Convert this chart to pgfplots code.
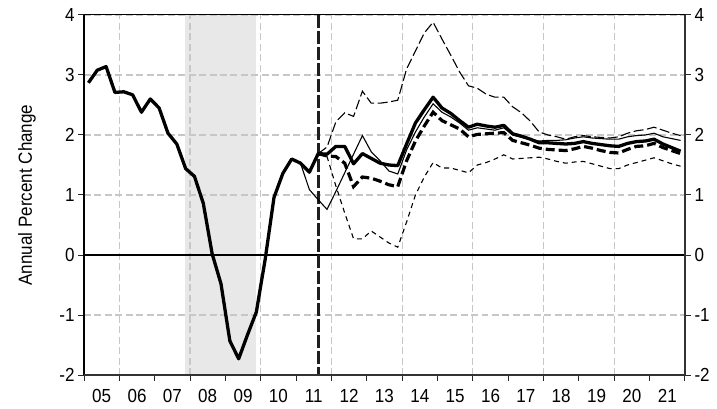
\documentclass[border=0pt]{standalone}
\usepackage{fontspec}
\setmainfont{Liberation Sans}[FakeStretch=0.9]
\usepackage{pgfplots}
\pgfplotsset{compat=1.18}

% history and forecasts, annual percent change (quarters at mid-quarter)
\pgfplotstableread{
x y
2005.125 2.87
2005.375 3.08
2005.625 3.14
2005.875 2.71
2006.125 2.72
2006.375 2.67
2006.625 2.38
2006.875 2.60
2007.125 2.45
2007.375 2.03
2007.625 1.85
2007.875 1.44
2008.125 1.31
2008.375 0.86
2008.625 0.02
2008.875 -0.48
2009.125 -1.43
2009.375 -1.73
2009.625 -1.33
2009.875 -0.95
2010.125 -0.07
2010.375 0.96
2010.625 1.36
2010.875 1.60
2011.125 1.53
2011.375 1.38
2011.625 1.69
2011.875 1.68
2012.125 1.81
2012.375 1.81
2012.625 1.52
2012.875 1.69
2013.125 1.61
2013.375 1.53
2013.625 1.50
2013.875 1.49
2014.125 1.85
2014.375 2.20
2014.625 2.42
2014.875 2.63
2015.125 2.45
2015.375 2.36
2015.625 2.24
2015.875 2.13
2016.125 2.18
2016.375 2.15
2016.625 2.13
2016.875 2.16
2017.125 2.02
2017.375 1.98
2017.625 1.93
2017.875 1.87
2018.125 1.87
2018.375 1.86
2018.625 1.85
2018.875 1.86
2019.125 1.89
2019.375 1.86
2019.625 1.84
2019.875 1.82
2020.125 1.81
2020.375 1.86
2020.625 1.89
2020.875 1.90
2021.125 1.93
2021.375 1.85
2021.625 1.79
2021.875 1.73
}\histdata

\pgfplotstableread{
x y
2011.625 1.69
2011.875 1.65
2012.125 1.64
2012.375 1.53
2012.625 1.14
2012.875 1.30
2013.125 1.28
2013.375 1.23
2013.625 1.17
2013.875 1.14
2014.125 1.57
2014.375 1.90
2014.625 2.15
2014.875 2.38
2015.125 2.24
2015.375 2.17
2015.625 2.10
2015.875 1.97
2016.125 2.01
2016.375 2.02
2016.625 2.03
2016.875 2.04
2017.125 1.91
2017.375 1.87
2017.625 1.83
2017.875 1.78
2018.125 1.76
2018.375 1.75
2018.625 1.74
2018.875 1.77
2019.125 1.81
2019.375 1.78
2019.625 1.74
2019.875 1.71
2020.125 1.70
2020.375 1.76
2020.625 1.81
2020.875 1.82
2021.125 1.86
2021.375 1.79
2021.625 1.74
2021.875 1.69
}\altdata

\pgfplotstableread{
x y
2011.125 1.53
2011.375 1.09
2011.625 0.92
2011.875 0.76
2012.125 1.06
2012.375 1.37
2012.625 1.68
2012.875 1.99
2013.125 1.72
2013.375 1.57
2013.625 1.40
2013.875 1.35
2014.125 1.75
2014.375 2.05
2014.625 2.30
2014.875 2.52
2015.125 2.38
2015.375 2.30
2015.625 2.20
2015.875 2.08
2016.125 2.12
2016.375 2.10
2016.625 2.08
2016.875 2.12
2017.125 2.00
2017.375 1.96
2017.625 1.93
2017.875 1.90
2018.125 1.91
2018.375 1.91
2018.625 1.92
2018.875 1.95
2019.125 1.97
2019.375 1.95
2019.625 1.94
2019.875 1.93
2020.125 1.93
2020.375 1.97
2020.625 1.99
2020.875 2.00
2021.125 2.03
2021.375 1.97
2021.625 1.94
2021.875 1.91
}\consdata

\pgfplotstableread{
x y
2011.625 1.69
2011.875 1.80
2012.125 2.22
2012.375 2.37
2012.625 2.31
2012.875 2.73
2013.125 2.53
2013.375 2.53
2013.625 2.55
2013.875 2.58
2014.125 3.10
2014.375 3.40
2014.625 3.70
2014.875 3.88
2015.125 3.60
2015.375 3.33
2015.625 3.05
2015.875 2.82
2016.125 2.78
2016.375 2.68
2016.625 2.63
2016.875 2.63
2017.125 2.47
2017.375 2.37
2017.625 2.23
2017.875 2.05
2018.125 2.00
2018.375 1.97
2018.625 1.93
2018.875 1.97
2019.125 1.99
2019.375 1.97
2019.625 1.96
2019.875 1.95
2020.125 1.97
2020.375 2.03
2020.625 2.07
2020.875 2.09
2021.125 2.13
2021.375 2.08
2021.625 2.03
2021.875 1.99
}\updata

\pgfplotstableread{
x y
2011.625 1.69
2011.875 1.64
2012.125 1.15
2012.375 0.70
2012.625 0.27
2012.875 0.27
2013.125 0.40
2013.375 0.30
2013.625 0.20
2013.875 0.13
2014.125 0.55
2014.375 1.00
2014.625 1.30
2014.875 1.54
2015.125 1.45
2015.375 1.45
2015.625 1.41
2015.875 1.37
2016.125 1.50
2016.375 1.54
2016.625 1.60
2016.875 1.67
2017.125 1.60
2017.375 1.61
2017.625 1.62
2017.875 1.63
2018.125 1.60
2018.375 1.56
2018.625 1.53
2018.875 1.55
2019.125 1.56
2019.375 1.52
2019.625 1.48
2019.875 1.44
2020.125 1.44
2020.375 1.50
2020.625 1.54
2020.875 1.58
2021.125 1.62
2021.375 1.57
2021.625 1.52
2021.875 1.48
}\lodata

\pgfplotsset{set layers}

\begin{document}
\begin{tikzpicture}[
  font=\fontsize{19}{22}\selectfont,
  gridline/.style={draw=black!22, line width=1.2pt, dash pattern=on 7pt off 3.5pt},
]
\begin{axis}[
  name=ax,
  scale only axis,
  width=601bp, height=360bp,
  xmin=2005, xmax=2022, ymin=-2, ymax=4,
  clip=false,
  axis line style={draw=none},
  xtick={2005,...,2022},
  x tick label as interval,
  xticklabels={05,06,07,08,09,10,11,12,13,14,15,16,17,18,19,20,21},
  minor x tick num=3,
  xtick pos=lower,
  ytick={-2,-1,0,1,2,3,4},
  yticklabels={-2,-1,0,1,2,3,4},
  ytick pos=left,
  tick align=outside,
  major tick length=6bp,
  minor tick length=3.5bp,
  tick style={black!85, line width=1pt},
  ymajorgrids,
  grid style=gridline,
  tick label style={font=\fontsize{19}{22}\selectfont},
  xticklabel style={yshift=-5bp},
  ylabel={Annual Percent Change},
  every axis y label/.style={at={(rel axis cs:-0.0948,0.5)}, rotate=90, anchor=center,
    font=\fontsize{19}{22}\selectfont},
]

% recession band
\addplot[fill=black!9, draw=none, on layer=axis background]
  coordinates {(2007.85,-2) (2007.85,4) (2009.86,4) (2009.86,-2)} -- cycle;

\pgfplotsinvokeforeach{2006,2008,2010,2012,2014,2016,2018,2020}{
  \draw[gridline] (axis cs:#1,-2) -- (axis cs:#1,4);
}
\draw[black, line width=1.1pt] (axis cs:2005,0) -- (axis cs:2022,0);

% last history quarter
\draw[black!88, line width=3pt, dash pattern=on 13bp off 3bp]
  (axis cs:2011.625,4) -- (axis cs:2011.625,-2);

\addplot[black, line width=1.1pt, dash pattern=on 5bp off 4bp] table {\lodata};
\addplot[black, line width=1.1pt, dash pattern=on 10bp off 3.5bp] table {\updata};
\addplot[black, line width=1.1pt] table {\consdata};
\addplot[black, line width=3.2pt, dash pattern=on 9bp off 4bp] table {\altdata};
\addplot[black, line width=3.3pt, line join=round] table {\histdata};

% frame
\draw[black, line width=1.5pt] (rel axis cs:0,0) -- (rel axis cs:0,1);
\draw[black, line width=1pt] (rel axis cs:0,1) -- (rel axis cs:1,1);
\draw[black!80, line width=2pt] (rel axis cs:1,1) -- (rel axis cs:1,0);
\draw[black!80, line width=2pt] (rel axis cs:0,0) -- (rel axis cs:1,0);
\end{axis}

\begin{axis}[
  scale only axis,
  width=601bp, height=360bp,
  xmin=2005, xmax=2022, ymin=-2, ymax=4,
  axis line style={draw=none},
  hide x axis,
  ytick={-2,-1,0,1,2,3,4},
  yticklabels={-2,-1,0,1,2,3,4},
  ytick pos=right,
  yticklabel pos=right,
  tick align=outside,
  major tick length=6bp,
  tick style={black!85, line width=1pt},
  tick label style={font=\fontsize{19}{22}\selectfont},
]
\end{axis}

\path ([shift={(-84bp,-34bp)}]ax.south west) rectangle ([shift={(32bp,15bp)}]ax.north east);
\end{tikzpicture}
\end{document}
